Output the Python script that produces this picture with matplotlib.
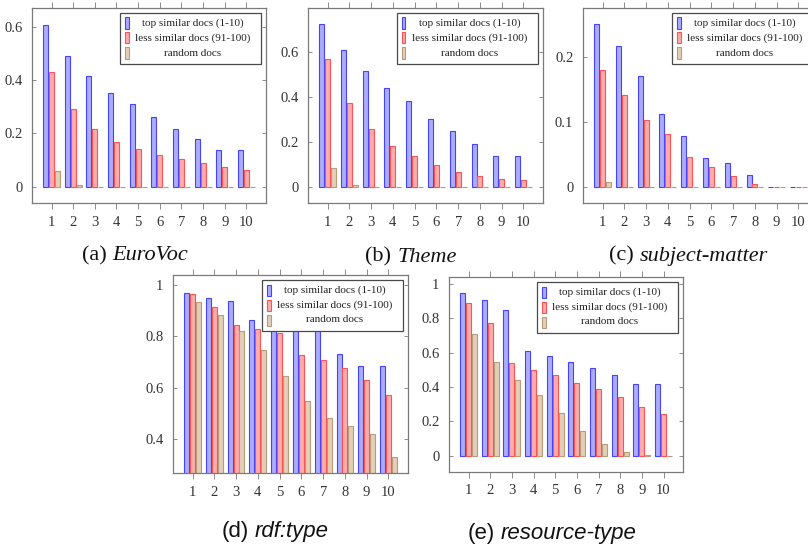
import numpy as np
import matplotlib
matplotlib.use("Agg")
import matplotlib.pyplot as plt
from matplotlib.patches import Rectangle

W, H = 808, 546
plt.rcParams['font.family'] = 'Liberation Serif'

ranks = list(range(1, 11))
series_names = ['top similar docs (1-10)', 'less similar docs (91-100)', 'random docs']

# (a) EuroVoc
eurovoc_top = [0.609, 0.491, 0.414, 0.352, 0.312, 0.261, 0.218, 0.178, 0.137, 0.137]
eurovoc_less = [0.430, 0.290, 0.215, 0.169, 0.143, 0.119, 0.103, 0.088, 0.076, 0.062]
eurovoc_rand = [0.061, 0.008, 0, 0, 0, 0, 0, 0, 0, 0]

# (b) Theme
theme_top = [0.726, 0.612, 0.519, 0.441, 0.382, 0.304, 0.247, 0.193, 0.138, 0.138]
theme_less = [0.570, 0.375, 0.259, 0.184, 0.138, 0.096, 0.067, 0.049, 0.033, 0.028]
theme_rand = [0.083, 0.009, 0, 0, 0, 0, 0, 0, 0, 0]

# (c) subject-matter
subject_top = [0.251, 0.217, 0.171, 0.113, 0.079, 0.044, 0.036, 0.018, 0, 0]
subject_less = [0.180, 0.141, 0.103, 0.082, 0.046, 0.030, 0.016, 0.004, 0, 0]
subject_rand = [0.007, 0, 0, 0, 0, 0, 0, 0, 0, 0]

# (d) rdf:type
rdf_top = [0.968, 0.948, 0.937, 0.864, 0.85, 0.84, 0.83, 0.732, 0.683, 0.683]
rdf_less = [0.965, 0.914, 0.843, 0.828, 0.811, 0.725, 0.706, 0.676, 0.628, 0.570]
rdf_rand = [0.931, 0.881, 0.821, 0.746, 0.644, 0.548, 0.484, 0.451, 0.422, 0.333]

# (e) resource-type
res_top = [0.946, 0.907, 0.849, 0.608, 0.579, 0.546, 0.512, 0.469, 0.415, 0.415]
res_less = [0.892, 0.772, 0.541, 0.502, 0.471, 0.423, 0.388, 0.342, 0.284, 0.245]
res_rand = [0.708, 0.544, 0.440, 0.355, 0.249, 0.143, 0.066, 0.023, 0.006, 0]

fills = ['#acacff', '#ffacac', '#e2cfba']
edges = ['#4444ff', '#ff5252', '#bb9a78']
offsets = [-0.27, 0, 0.27]
spine_c = '#7a7a7a'
txt_c = '#333333'

fig = plt.figure(figsize=(W / 100, H / 100), dpi=100)


def px_axes(left, top, right, bottom):
    return fig.add_axes([left / W, 1 - bottom / H, (right - left) / W, (bottom - top) / H])


def legend(right, top):
    x0, y0, bw, bh = right - 5 - 141, top + 5, 141, 51
    fig.add_artist(Rectangle((x0 / W, 1 - (y0 + bh) / H), bw / W, bh / H,
                             transform=fig.transFigure, facecolor='white',
                             edgecolor='#4a4a4a', lw=0.9, zorder=5))
    for k, name in enumerate(series_names):
        yc = y0 + 10 + 15 * k
        fig.add_artist(Rectangle(((x0 + 4.5) / W, 1 - (yc + 5.5) / H), 4 / W, 11 / H,
                                 transform=fig.transFigure, facecolor=fills[k],
                                 edgecolor=edges[k], lw=0.8, zorder=6))
        fig.text((x0 + 73) / W, 1 - yc / H, name, ha='center', va='center',
                 size=8, color='#222222', zorder=7)


def panel(box, data, ylim, yticks, ylabels):
    ax = px_axes(*box)
    for k, vals in enumerate(data):
        ax.bar(np.array(ranks) + offsets[k], vals, width=0.23, color=fills[k],
               edgecolor=edges[k], linewidth=0.8)
    ax.set_xlim(0.1, 10.9)
    ax.set_ylim(*ylim)
    ax.set_xticks(ranks)
    ax.set_yticks(yticks)
    ax.set_yticklabels(ylabels)
    ax.tick_params(axis='x', direction='out', top=True, length=4, width=0.6,
                   color=spine_c, pad=5, labelsize=10.5, labelcolor=txt_c)
    ax.tick_params(axis='y', direction='in', right=True, length=3, width=0.6,
                   color=spine_c, pad=7, labelsize=10.5, labelcolor=txt_c)
    for s in ax.spines.values():
        s.set_color(spine_c)
        s.set_linewidth(0.9)
    legend(box[2], box[1])
    return ax


def caption(cx, cy, prefix, name, family):
    r = fig.canvas.get_renderer()
    t1 = fig.text(0, 1 - cy / H, prefix, family=family, size=16, va='center', color='#111111')
    t2 = fig.text(0, 1 - cy / H, name, family=family, style='italic', size=16,
                  va='center', color='#111111')
    w1 = t1.get_window_extent(r).width
    w2 = t2.get_window_extent(r).width
    gap = 0.27 * 16 * 100 / 72
    left = cx - (w1 + gap + w2) / 2
    t1.set_x(left / W)
    t2.set_x((left + w1 + gap) / W)


panel((32, 8, 266, 203), [eurovoc_top, eurovoc_less, eurovoc_rand],
      (-0.061, 0.671), [0, 0.2, 0.4, 0.6], ['0', '0.2', '0.4', '0.6'])
panel((308, 8, 543, 203), [theme_top, theme_less, theme_rand],
      (-0.0726, 0.7986), [0, 0.2, 0.4, 0.6], ['0', '0.2', '0.4', '0.6'])
panel((583, 8, 818, 203), [subject_top, subject_less, subject_rand],
      (-0.0251, 0.2761), [0, 0.1, 0.2], ['0', '0.1', '0.2'])
panel((173, 275, 408, 473), [rdf_top, rdf_less, rdf_rand],
      (0.269, 1.037), [0.4, 0.6, 0.8, 1.0], ['0.4', '0.6', '0.8', '1'])
panel((449, 277, 683, 472), [res_top, res_less, res_rand],
      (-0.0946, 1.0406), [0, 0.2, 0.4, 0.6, 0.8, 1.0], ['0', '0.2', '0.4', '0.6', '0.8', '1'])

caption(135, 256, '(a)', 'EuroVoc', 'Liberation Serif')
caption(411, 257, '(b)', 'Theme', 'Liberation Serif')
caption(688, 256, '(c)', 'subject-matter', 'Liberation Serif')
caption(275, 532, '(d)', 'rdf:type', 'Liberation Sans')
caption(552, 533, '(e)', 'resource-type', 'Liberation Sans')

fig.savefig('out.png', dpi=100)
